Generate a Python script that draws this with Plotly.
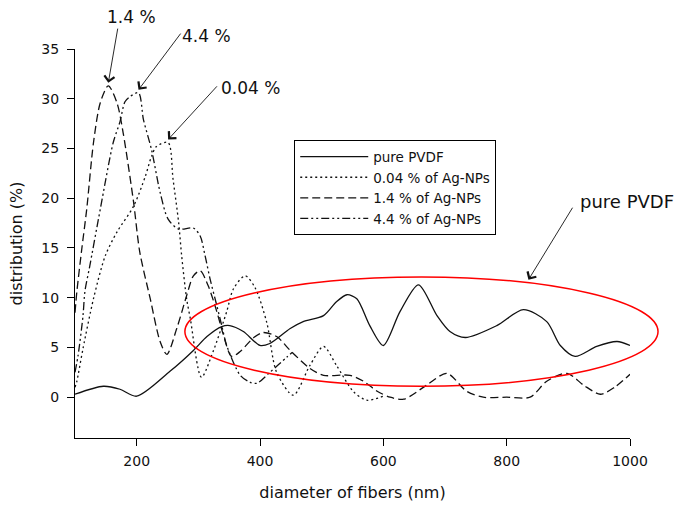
import plotly.graph_objects as go

# ---- data ----
pvdf_x = [100, 146, 173, 200, 254, 292, 314, 338, 351, 373, 400, 416, 449, 470, 503, 524, 541, 557, 578, 600,
          627, 657, 687, 708, 733, 784, 827, 865, 887, 911, 946, 979, 1000]
pvdf_y = [0.3, 1.1, 0.8, 0.1, 2.6, 4.7, 6.1, 7.1, 7.2, 6.6, 5.2, 5.4, 6.9, 7.6, 8.2, 9.6, 10.3, 9.9, 7.2, 5.2,
          8.6, 11.3, 8.2, 6.6, 6.0, 7.2, 8.8, 7.6, 5.2, 4.1, 5.1, 5.6, 5.2]

ag004_x = [100, 103, 113, 130, 149, 168, 195, 214, 224, 232, 251, 259, 268, 273, 281, 287, 305, 324, 346, 357,
           376, 392, 411, 427, 454, 481, 503, 524, 551, 573, 600]
ag004_y = [1.0, 1.6, 4.9, 9.9, 14.2, 16.6, 19.2, 22.2, 24.2, 25.2, 25.6, 21.9, 17.6, 14.2, 9.9, 7.9, 2.0, 4.6, 8.6, 10.9,
           12.2, 11.0, 7.5, 2.5, 0.2, 3.2, 5.1, 3.2, 0.6, -0.3, 0.1]

ag14_x = [100, 103, 111, 119, 130, 141, 154, 168, 178, 195, 205, 222, 238, 249, 265, 281, 292, 303, 316, 330,
          340, 354, 368, 390, 405, 427, 449, 481, 503, 546, 568, 590, 611, 633, 670, 703, 735, 762, 800, 838,
          865, 898, 925, 952, 975, 1000]
ag14_y = [8.5, 10.6, 14.9, 18.9, 25.6, 29.6, 31.3, 29.6, 26.6, 19.6, 14.6, 9.9, 5.6, 4.3, 6.9, 10.2, 12.2, 12.7, 11.2, 8.6,
          6.4, 4.1, 4.6, 6.0, 6.5, 6.1, 4.7, 2.9, 2.2, 2.2, 1.6, 0.6, 0.0, -0.2, 1.2, 2.4, 0.6, 0.0, 0.0, 0.0,
          1.6, 2.4, 1.2, 0.3, 1.0, 2.3]

ag44_x = [100, 105, 113, 116, 124, 141, 162, 173, 181, 189, 203, 211, 224, 238, 251, 268, 292, 303, 311, 319,
          330, 338, 346, 368, 384, 395, 416, 443, 452]
ag44_y = [2.5, 4.2, 8.2, 10.6, 13.2, 18.9, 25.6, 27.7, 29.7, 30.2, 30.6, 27.9, 24.9, 20.6, 17.9, 16.9, 17.0, 16.2, 14.2, 11.9,
          9.2, 7.2, 5.2, 2.2, 1.5, 1.4, 2.5, 4.0, 4.5]

series_names = ["pure PVDF", "0.04 % of Ag-NPs", "1.4 % of Ag-NPs", "4.4 % of Ag-NPs"]
x_ticks = [200, 400, 600, 800, 1000]
y_ticks = [0, 5, 10, 15, 20, 25, 30, 35]

FONT = "DejaVu Sans"
INK = "#111111"

fig = go.Figure()
styles = ["solid", "2px,3px", "8px,4px", "8px,3px,2px,3px,2px,3px"]
for xs, ys, name, dash in zip([pvdf_x, ag004_x, ag14_x, ag44_x], [pvdf_y, ag004_y, ag14_y, ag44_y],
                              series_names, styles):
    fig.add_trace(go.Scatter(x=xs, y=ys, name=name, mode="lines",
                             line=dict(color=INK, width=1.3, dash=dash, shape="spline", smoothing=0.8)))

# red ellipse marking the pure PVDF curve
fig.add_shape(type="circle", xref="paper", yref="paper", x0=0.198, x1=1.0505, y0=0.133, y1=0.414,
              line=dict(color="#ff0000", width=1.5), layer="above")

def peak(xs, ys):
    i = max(range(len(ys)), key=lambda k: ys[k])
    return xs[i], ys[i]

arrows = [
    # (tip x, tip y, tail x, tail y)
    (*peak(ag14_x, ag14_y), 169.7, 37.2),
    (*peak(ag44_x, ag44_y), 273.1, 36.7),
    (*peak(ag004_x, ag004_y), 332.4, 31.4),
    (835.3, 11.5, 908.3, 19.2),
]
for tx, ty, sx, sy in arrows:
    fig.add_annotation(x=tx, y=ty + 0.3, ax=sx, ay=sy, axref="x", ayref="y", xref="x", yref="y",
                       text="", showarrow=True, arrowhead=4, arrowsize=2.2, arrowwidth=0.9,
                       arrowcolor=INK)

labels = [("1.4 %", 0.1018, 1.0818, 17), ("4.4 %", 0.2369, 1.0332, 17), ("0.04 %", 0.3171, 0.899, 17),
          ("pure PVDF", 0.9946, 0.6087, 18)]
for t, lx, ly, fs in labels:
    fig.add_annotation(x=lx, y=ly, xref="paper", yref="paper", text=t, showarrow=False,
                       xanchor="center", yanchor="middle",
                       font=dict(family=FONT, size=fs, color=INK))

fig.update_layout(
    width=678, height=510,
    margin=dict(l=75, r=48, t=49, b=70),
    paper_bgcolor="white", plot_bgcolor="white",
    font=dict(family=FONT, size=14, color=INK),
    showlegend=True,
    legend=dict(x=0.395, y=0.765, xanchor="left", yanchor="top",
                bordercolor="#000000", borderwidth=1, bgcolor="white",
                font=dict(family=FONT, size=13.5, color=INK), itemwidth=68,
                tracegroupgap=0),
)
fig.update_xaxes(range=[100, 1000], tickvals=x_ticks, ticktext=[str(v) for v in x_ticks],
                 showline=True, linecolor="#000000", linewidth=1.2, ticks="outside", ticklen=7,
                 tickcolor="#000000", showgrid=False, zeroline=False, ticklabelstandoff=3,
                 tickfont=dict(family=FONT, size=14, color=INK),
                 title=dict(text="diameter of fibers (nm)", font=dict(family=FONT, size=16, color=INK),
                            standoff=18))
fig.update_yaxes(range=[-4.1, 35], tickvals=y_ticks, showline=True, linecolor="#000000", linewidth=1.2,
                 ticks="outside", ticklen=7, tickcolor="#000000", showgrid=False, zeroline=False,
                 ticklabelstandoff=5,
                 tickfont=dict(family=FONT, size=14, color=INK),
                 title=dict(text="distribution (%)", font=dict(family=FONT, size=16, color=INK),
                            standoff=14))

fig.write_html("out.html", config={"displayModeBar": False},
               post_script="document.body.style.margin='0';")
